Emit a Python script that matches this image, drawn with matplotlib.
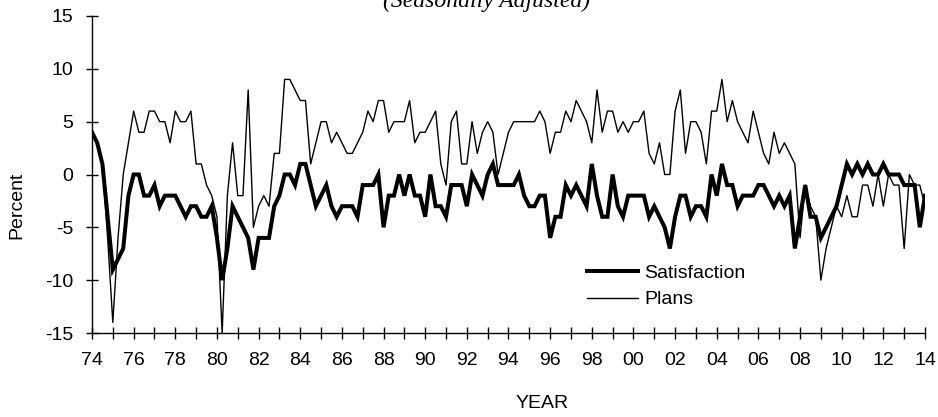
import numpy as np
import matplotlib
matplotlib.use('Agg')
import matplotlib.pyplot as plt

# quarterly readings, 1974Q1 .. 2014Q1
start_year = 1974
satisfaction = [
    4, 3, 1, -4,      # 74
    -9, -8, -7, -2,   # 75
    0, 0, -2, -2,     # 76
    -1, -3, -2, -2,   # 77
    -2, -3, -4, -3,   # 78
    -3, -4, -4, -3,   # 79
    -6, -10, -7, -3,  # 80
    -4, -5, -6, -9,   # 81
    -6, -6, -6, -3,   # 82
    -2, 0, 0, -1,     # 83
    1, 1, -1, -3,     # 84
    -2, -1, -3, -4,   # 85
    -3, -3, -3, -4,   # 86
    -1, -1, -1, 0,    # 87
    -5, -2, -2, 0,    # 88
    -2, 0, -2, -2,    # 89
    -4, 0, -3, -3,    # 90
    -4, -1, -1, -1,   # 91
    -3, 0, -1, -2,    # 92
    0, 1, -1, -1,     # 93
    -1, -1, 0, -2,    # 94
    -3, -3, -2, -2,   # 95
    -6, -4, -4, -1,   # 96
    -2, -1, -2, -3,   # 97
    1, -2, -4, -4,    # 98
    0, -3, -4, -2,    # 99
    -2, -2, -2, -4,   # 00
    -3, -4, -5, -7,   # 01
    -4, -2, -2, -4,   # 02
    -3, -3, -4, 0,    # 03
    -2, 1, -1, -1,    # 04
    -3, -2, -2, -2,   # 05
    -1, -1, -2, -3,   # 06
    -2, -3, -2, -7,   # 07
    -4, -1, -4, -4,   # 08
    -6, -5, -4, -3,   # 09
    -1, 1, 0, 1,      # 10
    0, 1, 0, 0,       # 11
    1, 0, 0, 0,       # 12
    -1, -1, -1, -5,   # 13
    -2,               # 14
]
plans = [
    4, 3, 1, -6,      # 74
    -14, -6, 0, 3,    # 75
    6, 4, 4, 6,       # 76
    6, 5, 5, 3,       # 77
    6, 5, 5, 6,       # 78
    1, 1, -1, -2,     # 79
    -4, -15, -2, 3,   # 80
    -2, -2, 8, -5,    # 81
    -3, -2, -3, 2,    # 82
    2, 9, 9, 8,       # 83
    7, 7, 1, 3,       # 84
    5, 5, 3, 4,       # 85
    3, 2, 2, 3,       # 86
    4, 6, 5, 7,       # 87
    7, 4, 5, 5,       # 88
    5, 7, 3, 4,       # 89
    4, 5, 6, 1,       # 90
    -1, 5, 6, 1,      # 91
    1, 5, 2, 4,       # 92
    5, 4, 0, 2,       # 93
    4, 5, 5, 5,       # 94
    5, 5, 6, 5,       # 95
    2, 4, 4, 6,       # 96
    5, 7, 6, 5,       # 97
    3, 8, 4, 6,       # 98
    6, 4, 5, 4,       # 99
    5, 5, 6, 2,       # 00
    1, 3, 0, 0,       # 01
    6, 8, 2, 5,       # 02
    5, 4, 1, 6,       # 03
    6, 9, 5, 7,       # 04
    5, 4, 3, 6,       # 05
    4, 2, 1, 4,       # 06
    2, 3, 2, 1,       # 07
    -6, -1, -3, -4,   # 08
    -10, -7, -5, -3,  # 09
    -4, -2, -4, -4,   # 10
    -1, -1, -3, 0,    # 11
    -3, 0, -1, -1,    # 12
    -7, 0, -1, -1,    # 13
    -3,               # 14
]
series_labels = ['Satisfaction', 'Plans']
title_text = '(Seasonally Adjusted)'
x_label = 'YEAR'
y_label = 'Percent'


def main():
    plt.rcParams['font.family'] = ['Liberation Sans', 'DejaVu Sans']
    fs = 14

    years = start_year + np.arange(len(satisfaction)) / 4.0

    fig = plt.figure(figsize=(9.38, 4.17), dpi=100)
    W, H = 938, 417
    left, right, top, bottom = 92, 925, 16, 333
    ax = fig.add_axes([left / W, 1 - bottom / H, (right - left) / W, (bottom - top) / H])

    ax.plot(years, satisfaction, color='black', lw=2.9, label=series_labels[0],
            solid_joinstyle='miter')
    ax.plot(years, plans, color='black', lw=1.0, label=series_labels[1])

    ax.set_xlim(1974, 2014)
    ax.set_ylim(-15, 15)
    ax.set_yticks(np.arange(-15, 16, 5))
    ax.set_yticklabels([str(v) for v in range(-15, 16, 5)])
    major = np.arange(1974, 2015, 2)
    ax.set_xticks(major)
    ax.set_xticklabels([f'{y % 100:02d}' for y in major])
    ax.set_xticks(np.arange(1974, 2015, 1), minor=True)

    for s in ['top', 'right']:
        ax.spines[s].set_visible(False)
    for s in ['left', 'bottom']:
        ax.spines[s].set_linewidth(1.0)
    ax.tick_params(axis='both', which='both', direction='inout', length=9, width=1.0,
                   labelsize=fs)
    ax.tick_params(axis='x', which='both', pad=9)
    ax.tick_params(axis='y', pad=9)

    ax.legend(loc='center left', bbox_to_anchor=(587 / W, 1 - 286.5 / H),
              bbox_transform=fig.transFigure, frameon=False, fontsize=fs,
              handlelength=2.6, handletextpad=0.35, labelspacing=0.45,
              borderpad=0, borderaxespad=0)

    fig.text(542 / W, 1 - 403 / H, x_label, ha='center', va='center', fontsize=fs)
    fig.text(17 / W, 1 - 205 / H, y_label, ha='center', va='center', rotation=90, fontsize=fs)
    # title sits partly above the top edge, as in the source image
    fig.text(487 / W, 1 - 7 / H, title_text, ha='center', va='baseline', fontsize=17,
             family='Liberation Serif', style='italic')

    fig.savefig('out.png', dpi=100)
    plt.close(fig)


if __name__ == '__main__':
    main()
